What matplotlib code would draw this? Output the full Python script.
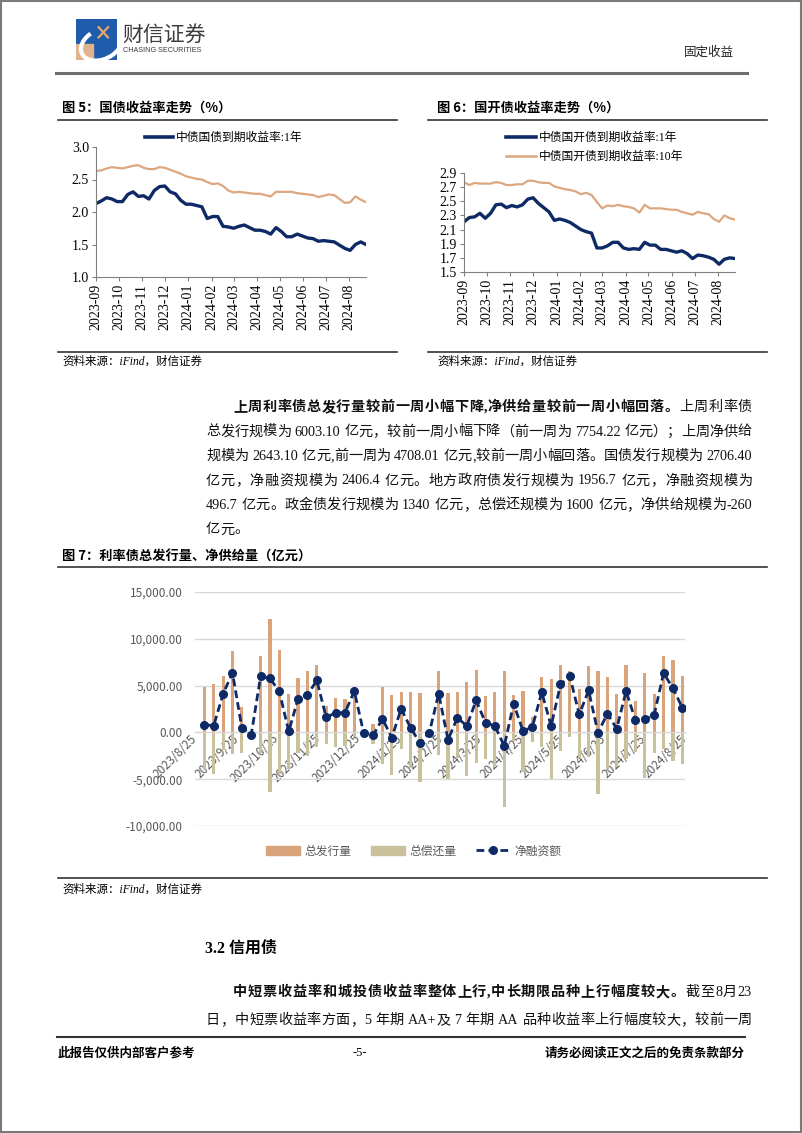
import numpy as np
import pandas as pd
import matplotlib
matplotlib.use('Agg')
import matplotlib.pyplot as plt
import matplotlib.dates as mdates
from matplotlib.transforms import IdentityTransform
from matplotlib.patches import Rectangle, Patch, Arc
from matplotlib.lines import Line2D
from matplotlib.ticker import FuncFormatter, MultipleLocator

W, H = 802, 1133
CJK = 'Noto Sans CJK SC'
SERIF = ['Liberation Serif', CJK]
plt.rcParams['font.family'] = [CJK, 'DejaVu Sans']

# 周度日期（每周五）
weeks = pd.date_range('2023-09-01', '2024-08-23', freq='W-FRI')

# 图5 国债到期收益率（%）
gz_1y = [2.13, 2.17, 2.22, 2.20, 2.16, 2.16, 2.27, 2.31, 2.24, 2.25,
         2.20, 2.33, 2.39, 2.40, 2.31, 2.28, 2.18, 2.12, 2.12, 2.10,
         2.08, 1.90, 1.93, 1.93, 1.78, 1.77, 1.75, 1.78, 1.80, 1.76,
         1.72, 1.72, 1.70, 1.66, 1.76, 1.70, 1.62, 1.62, 1.66, 1.63,
         1.60, 1.59, 1.55, 1.56, 1.55, 1.54, 1.49, 1.44, 1.41, 1.50,
         1.54, 1.50]
gz_10y = [2.63, 2.64, 2.67, 2.69, 2.68, 2.67, 2.69, 2.71, 2.72, 2.68,
          2.66, 2.66, 2.69, 2.68, 2.65, 2.62, 2.59, 2.55, 2.53, 2.51,
          2.50, 2.46, 2.43, 2.44, 2.40, 2.33, 2.30, 2.31, 2.30, 2.29,
          2.28, 2.28, 2.26, 2.24, 2.31, 2.31, 2.31, 2.31, 2.29, 2.28,
          2.27, 2.26, 2.23, 2.25, 2.27, 2.26, 2.20, 2.14, 2.15, 2.24,
          2.19, 2.15]

# 图6 国开债到期收益率（%）
gk_1y = [2.21, 2.27, 2.28, 2.33, 2.26, 2.33, 2.45, 2.46, 2.41, 2.44,
         2.42, 2.45, 2.53, 2.55, 2.47, 2.41, 2.35, 2.23, 2.25, 2.23,
         2.20, 2.15, 2.10, 2.07, 2.05, 1.84, 1.84, 1.87, 1.92, 1.92,
         1.84, 1.82, 1.83, 1.82, 1.92, 1.88, 1.88, 1.82, 1.82, 1.80,
         1.78, 1.80, 1.76, 1.69, 1.74, 1.73, 1.71, 1.68, 1.61, 1.68,
         1.70, 1.69]
gk_10y = [2.77, 2.73, 2.76, 2.75, 2.75, 2.75, 2.77, 2.76, 2.73, 2.73,
          2.74, 2.74, 2.79, 2.79, 2.77, 2.76, 2.76, 2.71, 2.69, 2.67,
          2.66, 2.64, 2.60, 2.62, 2.59, 2.49, 2.40, 2.44, 2.43, 2.45,
          2.43, 2.42, 2.40, 2.34, 2.45, 2.40, 2.40, 2.40, 2.39, 2.38,
          2.38, 2.35, 2.33, 2.31, 2.35, 2.33, 2.32, 2.25, 2.21, 2.30,
          2.26, 2.24]

# 图7 利率债发行/偿还/净融资（亿元）
issue = [4800, 5200, 5980, 8690, 2700, 150, 8150, 12140, 8830, 4060,
         5800, 6550, 7160, 2800, 3680, 3540, 4900, 200, 950, 4840,
         4020, 4310, 4310, 4200, 300, 6510, 4200, 4310, 5380, 6690,
         3840, 4310, 6510, 3950, 4400, 1640, 5910, 5660, 7160, 6510,
         4660, 7080, 6510, 5900, 4100, 7200, 3400, 6300, 4060, 8150,
         7754.22, 6003.10]
repay = [-3980, -4490, -1850, -2320, -2200, -400, -2170, -6370, -4450, -3960,
         -2200, -2530, -1610, -1200, -1580, -1440, -490, -270, -1280, -3380,
         -4590, -1780, -3810, -5340, -340, -2380, -4980, -2740, -4700, -3270,
         -2810, -3630, -7970, -890, -4250, -1070, -1600, -4980, -2030, -530,
         -2740, -2590, -6550, -3900, -3700, -2790, -2120, -4910, -2170, -1810,
         -3046.21, -3360.00]
net = [820, 710, 4130, 6370, 500, -250, 5980, 5770, 4380, 100,
       3600, 4020, 5550, 1600, 2100, 2100, 4410, -70, -330, 1460,
       -570, 2530, 500, -1140, -40, 4130, -780, 1570, 680, 3420,
       1030, 680, -1460, 3060, 150, 570, 4310, 680, 5130, 5980,
       1920, 4490, -40, 2000, 400, 4410, 1280, 1390, 1890, 6340,
       4708.01, 2643.10]
bar_ticks = pd.date_range('2023-08-25', periods=13, freq=pd.DateOffset(months=1))

NAVY = '#0e2a66'
TAN = '#dca77f'
ORANGE = '#d9a37b'
OLIVE = '#c9c19c'
GRAY = '#595959'

fig = plt.figure(figsize=(W / 100, H / 100), dpi=100)
px = IdentityTransform()
renderer = fig.canvas.get_renderer()


def put(x, y, s, **kw):
    kw.setdefault('va', 'center')
    return fig.text(x, H - y, s, transform=px, **kw)


def hline(x0, x1, y, lw=1.2, color='#333333'):
    fig.add_artist(Line2D([x0, x1], [H - y, H - y], transform=px, lw=lw, color=color))


def axes_px(x0, y0, x1, y1):
    return fig.add_axes([x0 / W, 1 - y1 / H, (x1 - x0) / W, (y1 - y0) / H])


def body_line(y, segs, x0, x1, justify=True, fs=10.2):
    # 两端对齐：逐字排布
    toks = []
    for s, bold in segs:
        run = ''
        for ch in s:
            if ch.isascii() and ch != ' ':
                run += ch
                continue
            if run:
                toks.append((run, bold))
                run = ''
            toks.append((ch, bold))
        if run:
            toks.append((run, bold))
    arts, widths = [], []
    for t, bold in toks:
        if t == ' ':
            arts.append(None)
            widths.append(fs * 100 / 72 * 0.25)
            continue
        a = put(0, y + 5, t, fontsize=fs, family=SERIF, va='baseline',
                fontweight='bold' if bold else 'normal', color='#111111')
        arts.append(a)
        widths.append(a.get_window_extent(renderer).width)
    gap = 0
    if justify and len(toks) > 1:
        gap = (x1 - x0 - sum(widths)) / (len(toks) - 1)
    x = x0
    for a, w in zip(arts, widths):
        if a is not None:
            a.set_x(x)
        x += w + gap


# 页面边框
fig.add_artist(Rectangle((1, 1), W - 2, H - 2, transform=px, fill=False, ec='#7a7a7a', lw=1.5))

# 页眉
ax_logo = axes_px(76, 19, 117, 60)
ax_logo.set_xlim(0, 1)
ax_logo.set_ylim(0, 1)
ax_logo.axis('off')
ax_logo.add_patch(Rectangle((0, 0), 1, 1, color='#1f5cab'))
ax_logo.add_patch(Rectangle((0, 0), 0.42, 0.38, color='#e0b38c'))
ax_logo.add_patch(Arc((0.62, 0.38), 1.05, 0.72, angle=25, theta1=110, theta2=320, color='white', lw=3))
ax_logo.plot([0.55, 0.78], [0.55, 0.8], color='#eaa56d', lw=1.6)
ax_logo.plot([0.55, 0.78], [0.8, 0.55], color='#eaa56d', lw=1.6)
put(122, 35, '财信证券', fontsize=15, color='#3c3c3c')
put(123, 51, 'CHASING SECURITIES', fontsize=5.2, family='Liberation Sans', color='#3c3c3c')
put(734, 52, '固定收益', ha='right', fontsize=9, color='#222222')
hline(56, 747, 73, lw=2.2, color='#6e6e6e')

# 图5
put(62, 108, '图 5：国债收益率走势（%）', fontsize=9.5, fontweight='bold')
hline(58, 397, 119.5)
ax5 = axes_px(96, 147, 366, 277)
ax5.plot(weeks, gz_10y, color=TAN, lw=1.6)
ax5.plot(weeks, gz_1y, color=NAVY, lw=2.4)
ax5.set_ylim(1.0, 3.0)
ax5.yaxis.set_major_locator(MultipleLocator(0.5))
ax5.yaxis.set_major_formatter(FuncFormatter(lambda v, _: f'{v:.1f}'))
fig.legend([Line2D([], [], color=NAVY, lw=2.6)], ['中债国债到期收益率:1年'],
           loc='center left', bbox_to_anchor=(145 / W, 1 - 138 / H), frameon=False,
           prop={'family': SERIF, 'size': 8.5}, handlelength=2.4, handletextpad=0.25,
           borderpad=0, borderaxespad=0)
hline(58, 397, 352)
put(62, 362, '资料来源：iFind，财信证券', fontsize=8.3, family=SERIF, style='italic')

# 图6
put(437, 108, '图 6：国开债收益率走势（%）', fontsize=9.5, fontweight='bold')
hline(428, 767, 119.5)
ax6 = axes_px(464, 173, 735, 272)
ax6.plot(weeks, gk_10y, color=TAN, lw=1.6)
ax6.plot(weeks, gk_1y, color=NAVY, lw=2.4)
ax6.set_ylim(1.5, 2.9)
ax6.set_yticks(np.arange(1.5, 2.95, 0.2))
ax6.yaxis.set_major_formatter(FuncFormatter(lambda v, _: f'{v:.1f}'))
fig.legend([Line2D([], [], color=NAVY, lw=2.6), Line2D([], [], color=TAN, lw=1.8)],
           ['中债国开债到期收益率:1年', '中债国开债到期收益率:10年'],
           loc='center left', bbox_to_anchor=(506 / W, 1 - 147.5 / H), frameon=False,
           prop={'family': SERIF, 'size': 8.5}, handlelength=2.5, handletextpad=0.25,
           labelspacing=0.55, borderpad=0, borderaxespad=0)
hline(428, 767, 352)
put(437, 362, '资料来源：iFind，财信证券', fontsize=8.3, family=SERIF, style='italic')

for ax in (ax5, ax6):
    ax.set_xlim(weeks[0], weeks[-1])
    ax.xaxis.set_major_locator(mdates.MonthLocator())
    ax.xaxis.set_major_formatter(mdates.DateFormatter('%Y-%m'))
    ax.tick_params(axis='x', rotation=90)
    ax.tick_params(labelfontfamily='Liberation Serif', labelsize=10, color='#808080',
                   length=3, width=0.8, direction='out', pad=2)
    for sp in ('top', 'right'):
        ax.spines[sp].set_visible(False)
    for sp in ('left', 'bottom'):
        ax.spines[sp].set_color('#808080')
        ax.spines[sp].set_linewidth(0.8)

# 正文段落一
X0, X1 = 206, 752
body_line(406, [('上周利率债总发行量较前一周小幅下降,净供给量较前一周小幅回落。', True), ('上周利率债', False)], 233, X1)
body_line(430.5, [('总发行规模为 6003.10 亿元，较前一周小幅下降（前一周为 7754.22 亿元）；上周净供给', False)], X0, X1)
body_line(455, [('规模为 2643.10 亿元,前一周为 4708.01 亿元,较前一周小幅回落。国债发行规模为 2706.40', False)], X0, X1)
body_line(479.5, [('亿元，净融资规模为 2406.4 亿元。地方政府债发行规模为 1956.7 亿元，净融资规模为', False)], X0, X1)
body_line(504, [('496.7 亿元。政金债发行规模为 1340 亿元，总偿还规模为 1600 亿元，净供给规模为-260', False)], X0, X1)
body_line(528.5, [('亿元。', False)], X0, X1, justify=False)

# 图7
put(62, 557, '图 7：利率债总发行量、净供给量（亿元）', fontsize=9.5, fontweight='bold')
hline(58, 767, 567)
ax7 = axes_px(195, 592, 685, 826)
ax7.bar(weeks, issue, width=2.4, color=ORANGE, zorder=2)
ax7.bar(weeks, repay, width=2.4, color=OLIVE, zorder=2)
ax7.plot(weeks, net, color=NAVY, lw=2, dashes=(2.8, 1.5), marker='o', ms=5.5, zorder=3)
ax7.set_xlim(pd.Timestamp('2023-08-25'), pd.Timestamp('2024-08-25'))
ax7.set_ylim(-10000, 15000)
ax7.set_yticks(range(-10000, 15001, 5000))
ax7.yaxis.set_major_formatter(FuncFormatter(lambda v, _: f'{v:,.2f}'))
ax7.yaxis.grid(True, color='#d9d9d9', lw=1)
ax7.set_axisbelow(True)
ax7.set_xticks(bar_ticks)
ax7.set_xticklabels([f'{d.year}/{d.month}/{d.day}' for d in bar_ticks])
for sp in ('top', 'right', 'left'):
    ax7.spines[sp].set_visible(False)
ax7.spines['bottom'].set_position(('data', 0))
ax7.spines['bottom'].set_color('#d9d9d9')
ax7.tick_params(axis='both', length=0, labelcolor=GRAY)
ax7.tick_params(axis='y', labelsize=8.5, pad=9)
ax7.tick_params(axis='x', labelsize=8.5, pad=3)
plt.setp(ax7.get_xticklabels(), rotation=45, ha='right', va='center', rotation_mode='anchor')
fig.legend([Patch(color=ORANGE), Patch(color=OLIVE),
            Line2D([], [], color=NAVY, lw=2, dashes=(2.8, 1.5), marker='o', ms=5.5)],
           ['总发行量', '总偿还量', '净融资额'], loc='center left',
           bbox_to_anchor=(266 / W, 1 - 851 / H), ncol=3, frameon=False, fontsize=8.5,
           handlelength=2.9, handletextpad=0.4, columnspacing=1.6, borderpad=0,
           borderaxespad=0, labelcolor=GRAY)
hline(58, 767, 878)
put(62, 890, '资料来源：iFind，财信证券', fontsize=8.3, family=SERIF, style='italic')

# 3.2 信用债
put(205, 949, '3.2 信用债', fontsize=11.5, fontweight='bold', family=SERIF)
body_line(991, [('中短票收益率和城投债收益率整体上行,中长期限品种上行幅度较大。', True), ('截至8月23', False)], 233, X1)
body_line(1019, [('日，中短票收益率方面，5 年期 AA+及 7 年期 AA 品种收益率上行幅度较大，较前一周', False)], X0, X1)

# 页脚
hline(57, 745, 1037, lw=1.5)
put(58, 1053, '此报告仅供内部客户参考', fontsize=9, fontweight='bold')
put(360, 1053, '-5-', fontsize=9, family='Liberation Serif', ha='center')
put(745, 1053, '请务必阅读正文之后的免责条款部分', fontsize=9, fontweight='bold', ha='right')

fig.savefig('out.png', dpi=100)
